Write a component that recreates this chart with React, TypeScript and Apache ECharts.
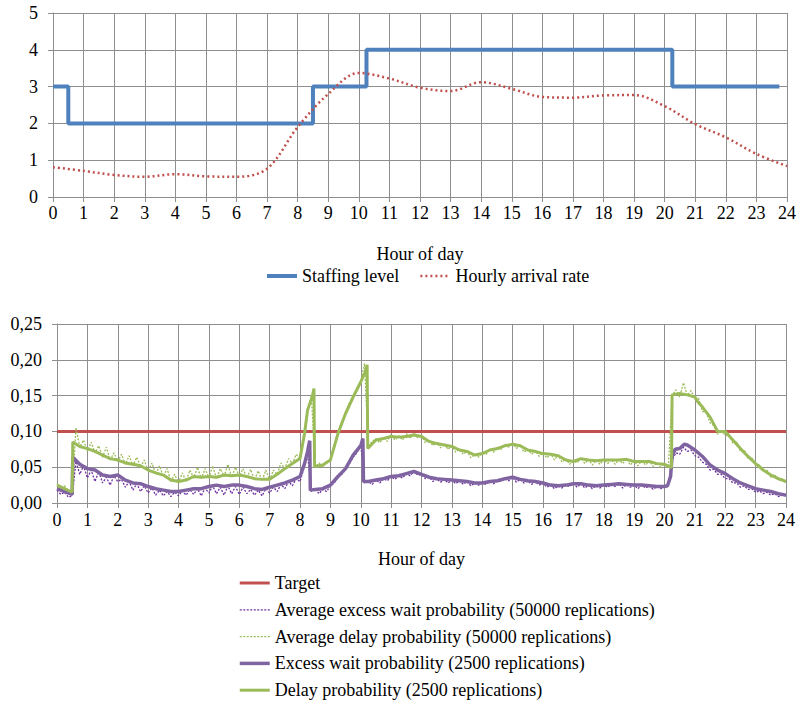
import React, { useEffect, useRef } from "react";
import * as echarts from "echarts";

const FONT = '"Liberation Serif", "Times New Roman", serif';

// ---------- Top chart data ----------
const hourTicks = Array.from({ length: 25 }, (_, i) => i);
const staffHours = [0, 0.5, 8.5, 10.25, 20.25, 23.75];
const staffLevels = [3, 2, 3, 4, 3, 3];
const arrivalHours = hourTicks;
const arrivalRate = [
  0.81, 0.71, 0.6, 0.55, 0.62, 0.56, 0.55, 0.77, 1.9, 2.8, 3.37, 3.22, 2.97,
  2.88, 3.12, 2.94, 2.72, 2.7, 2.76, 2.77, 2.47, 1.98, 1.62, 1.17, 0.84,
];

// ---------- Bottom chart data ----------
const targetLevel = 0.1;

const excessWait2500: [number, number][] = [
  [0, 0.02], [0.25, 0.016], [0.5, 0.012], [0.52, 0.064], [0.75, 0.054], [1, 0.048], [1.25, 0.046], [1.5, 0.039], [1.75, 0.037],
  [2, 0.039], [2.25, 0.032], [2.5, 0.028], [2.75, 0.027], [3, 0.023], [3.25, 0.02], [3.5, 0.018], [3.75, 0.016],
  [4, 0.016], [4.25, 0.018], [4.5, 0.02], [4.75, 0.02], [5, 0.023], [5.25, 0.025], [5.5, 0.023], [5.75, 0.025],
  [6, 0.025], [6.25, 0.023], [6.5, 0.02], [6.75, 0.019], [7, 0.022], [7.25, 0.025], [7.5, 0.028], [7.75, 0.032],
  [8, 0.037], [8.15, 0.055], [8.25, 0.072], [8.32, 0.087], [8.34, 0.018], [8.5, 0.019], [8.75, 0.02],
  [9, 0.025], [9.25, 0.037], [9.5, 0.048], [9.75, 0.067], [10, 0.08], [10.07, 0.09], [10.09, 0.03], [10.25, 0.03],
  [10.5, 0.032], [10.75, 0.034], [11, 0.037], [11.25, 0.038], [11.5, 0.041], [11.75, 0.044],
  [12, 0.04], [12.25, 0.036], [12.5, 0.034], [12.75, 0.033], [13, 0.032], [13.25, 0.031], [13.5, 0.03], [13.75, 0.028],
  [14, 0.028], [14.25, 0.03], [14.5, 0.031], [14.75, 0.034], [15, 0.036], [15.25, 0.033], [15.5, 0.031], [15.75, 0.03],
  [16, 0.028], [16.25, 0.025], [16.5, 0.024], [16.75, 0.025], [17, 0.027], [17.25, 0.027], [17.5, 0.025], [17.75, 0.024],
  [18, 0.025], [18.25, 0.026], [18.5, 0.027], [18.75, 0.026], [19, 0.025], [19.25, 0.025], [19.5, 0.024], [19.75, 0.023],
  [20, 0.023], [20.1, 0.024], [20.2, 0.037], [20.25, 0.065], [20.35, 0.075], [20.5, 0.076], [20.65, 0.082], [20.75, 0.081],
  [21, 0.074], [21.25, 0.065], [21.5, 0.053], [21.75, 0.046], [22, 0.041], [22.25, 0.034], [22.5, 0.028], [22.75, 0.024],
  [23, 0.02], [23.25, 0.018], [23.5, 0.016], [23.75, 0.013], [24, 0.011],
];

const delay2500: [number, number][] = [
  [0, 0.025], [0.25, 0.02], [0.5, 0.015], [0.52, 0.085], [0.75, 0.079], [1, 0.076], [1.25, 0.072], [1.5, 0.067], [1.75, 0.062],
  [2, 0.06], [2.25, 0.056], [2.5, 0.054], [2.75, 0.052], [3, 0.046], [3.25, 0.042], [3.5, 0.039], [3.75, 0.032],
  [4, 0.03], [4.25, 0.032], [4.5, 0.037], [4.75, 0.036], [5, 0.037], [5.25, 0.036], [5.5, 0.039], [5.75, 0.038],
  [6, 0.039], [6.25, 0.037], [6.5, 0.034], [6.75, 0.033], [7, 0.033], [7.25, 0.04], [7.5, 0.048], [7.75, 0.055],
  [8, 0.062], [8.15, 0.097], [8.25, 0.13], [8.4, 0.148], [8.46, 0.16], [8.48, 0.051], [8.75, 0.053],
  [9, 0.06], [9.25, 0.097], [9.5, 0.125], [9.75, 0.148], [10, 0.169], [10.15, 0.183], [10.21, 0.193], [10.23, 0.076],
  [10.5, 0.088], [10.75, 0.09], [11, 0.093], [11.25, 0.092], [11.5, 0.093], [11.75, 0.095],
  [12, 0.093], [12.25, 0.086], [12.5, 0.083], [12.75, 0.081], [13, 0.079], [13.25, 0.074], [13.5, 0.072], [13.75, 0.067],
  [14, 0.069], [14.25, 0.074], [14.5, 0.076], [14.75, 0.08], [15, 0.082], [15.25, 0.08], [15.5, 0.074], [15.75, 0.072],
  [16, 0.069], [16.25, 0.068], [16.5, 0.066], [16.75, 0.06], [17, 0.058], [17.25, 0.062], [17.5, 0.06], [17.75, 0.059],
  [18, 0.06], [18.25, 0.06], [18.5, 0.06], [18.75, 0.061], [19, 0.058], [19.25, 0.058], [19.5, 0.058], [19.75, 0.055],
  [20, 0.054], [20.2, 0.05], [20.23, 0.05], [20.25, 0.151], [20.5, 0.153], [20.75, 0.151],
  [21, 0.148], [21.1, 0.141], [21.25, 0.134], [21.5, 0.12], [21.75, 0.1], [22, 0.1], [22.25, 0.088], [22.5, 0.076], [22.75, 0.065],
  [23, 0.055], [23.25, 0.046], [23.5, 0.039], [23.75, 0.034], [24, 0.03],
];

// 50000-replication averages, sampled every 1/8 hour (0 .. 24)
const avgExcess50000 = [
  0.018, 0.012, 0.015, 0.008, 0.01, 0.058, 0.04, 0.052,
  0.035, 0.046, 0.03, 0.044, 0.028, 0.036, 0.025, 0.038,
  0.03, 0.033, 0.022, 0.03, 0.018, 0.027, 0.016, 0.024,
  0.014, 0.021, 0.011, 0.018, 0.01, 0.016, 0.009, 0.015,
  0.01, 0.017, 0.011, 0.019, 0.012, 0.02, 0.01, 0.021,
  0.014, 0.024, 0.013, 0.022, 0.011, 0.024, 0.013, 0.023,
  0.012, 0.022, 0.013, 0.019, 0.011, 0.018, 0.01, 0.02,
  0.014, 0.022, 0.016, 0.026, 0.02, 0.03, 0.024, 0.034,
  0.03, 0.048, 0.068, 0.016, 0.02, 0.013, 0.019, 0.016,
  0.024, 0.028, 0.036, 0.04, 0.047, 0.055, 0.064, 0.07,
  0.082, 0.028, 0.03, 0.026, 0.032, 0.028, 0.034, 0.031,
  0.037, 0.033, 0.038, 0.035, 0.041, 0.038, 0.044, 0.039,
  0.04, 0.034, 0.036, 0.03, 0.034, 0.029, 0.033, 0.028,
  0.032, 0.027, 0.031, 0.026, 0.03, 0.024, 0.028, 0.025,
  0.028, 0.026, 0.03, 0.027, 0.031, 0.03, 0.034, 0.031,
  0.036, 0.029, 0.033, 0.028, 0.031, 0.026, 0.03, 0.025,
  0.028, 0.022, 0.025, 0.02, 0.024, 0.021, 0.025, 0.023,
  0.027, 0.022, 0.027, 0.021, 0.025, 0.02, 0.024, 0.021,
  0.025, 0.022, 0.026, 0.023, 0.027, 0.021, 0.026, 0.022,
  0.025, 0.02, 0.025, 0.021, 0.024, 0.019, 0.023, 0.02,
  0.023, 0.027, 0.06, 0.07, 0.068, 0.078, 0.072, 0.074,
  0.066, 0.064, 0.057, 0.054, 0.046, 0.047, 0.04, 0.04,
  0.034, 0.034, 0.028, 0.028, 0.022, 0.024, 0.019, 0.02,
  0.015, 0.017, 0.013, 0.015, 0.011, 0.013, 0.009, 0.011,
  0.01,
];

const avgDelay50000 = [
  0.027, 0.02, 0.024, 0.016, 0.014, 0.105, 0.078, 0.088,
  0.072, 0.085, 0.07, 0.08, 0.064, 0.078, 0.06, 0.07,
  0.058, 0.068, 0.054, 0.066, 0.052, 0.064, 0.05, 0.06,
  0.044, 0.056, 0.04, 0.052, 0.037, 0.048, 0.03, 0.04,
  0.028, 0.042, 0.031, 0.046, 0.035, 0.05, 0.034, 0.048,
  0.035, 0.052, 0.034, 0.048, 0.037, 0.054, 0.036, 0.05,
  0.037, 0.048, 0.035, 0.047, 0.032, 0.045, 0.031, 0.046,
  0.032, 0.046, 0.04, 0.056, 0.048, 0.062, 0.055, 0.068,
  0.062, 0.092, 0.13, 0.15, 0.05, 0.056, 0.05, 0.058,
  0.058, 0.08, 0.098, 0.114, 0.126, 0.14, 0.15, 0.16,
  0.17, 0.195, 0.08, 0.086, 0.09, 0.084, 0.092, 0.086,
  0.096, 0.088, 0.094, 0.088, 0.097, 0.09, 0.098, 0.091,
  0.095, 0.084, 0.088, 0.08, 0.085, 0.077, 0.083, 0.075,
  0.08, 0.071, 0.075, 0.068, 0.073, 0.063, 0.068, 0.064,
  0.07, 0.068, 0.075, 0.071, 0.078, 0.075, 0.082, 0.078,
  0.084, 0.076, 0.081, 0.071, 0.075, 0.068, 0.073, 0.065,
  0.07, 0.063, 0.069, 0.06, 0.067, 0.057, 0.062, 0.054,
  0.059, 0.056, 0.063, 0.055, 0.061, 0.053, 0.06, 0.054,
  0.061, 0.055, 0.061, 0.054, 0.061, 0.055, 0.062, 0.053,
  0.059, 0.052, 0.059, 0.053, 0.059, 0.051, 0.056, 0.05,
  0.055, 0.049, 0.15, 0.158, 0.148, 0.168, 0.15, 0.157,
  0.145, 0.146, 0.128, 0.126, 0.112, 0.108, 0.096, 0.102,
  0.094, 0.095, 0.084, 0.086, 0.072, 0.074, 0.062, 0.064,
  0.052, 0.054, 0.044, 0.046, 0.036, 0.04, 0.031, 0.034,
  0.028,
];
const fineHours = avgExcess50000.map((_, i) => i / 8);

const yTicksBottom = [0, 0.05, 0.1, 0.15, 0.2, 0.25];

const GRID_COLOR = "#8e8e8e";
const TEXT = { color: "#000", fontSize: 18, fontFamily: FONT };

const C_BLUE = "#4F81BD";
const C_RED = "#C0504D";
const C_PURPLE = "#8064A2";
const C_PURPLE_DOT = "#7030A0";
const C_GREEN = "#9BBB59";

const S_STAFF = { color: C_BLUE, width: 4 };
const S_ARRIVAL = { color: C_RED, width: 2.5, type: [2, 3] };
const S_TARGET = { color: C_RED, width: 3 };
const S_AVG_EXCESS = { color: C_PURPLE_DOT, width: 1.3, type: [2, 1.5] };
const S_AVG_DELAY = { color: C_GREEN, width: 1.3, type: [2, 1.5] };
const S_EXCESS = { color: C_PURPLE, width: 3.5 };
const S_DELAY = { color: C_GREEN, width: 3 };

const HIDDEN_SYMBOL = { color: "rgba(0,0,0,0)", borderWidth: 0, opacity: 0 };

function xAxisFor(gridIndex: number, labelMargin: number, nameGap: number) {
  return {
    gridIndex,
    type: "value",
    min: 0,
    max: 24,
    interval: 1,
    axisLine: { show: true, lineStyle: { color: GRID_COLOR, width: 1 } },
    axisTick: { show: true, length: 5, lineStyle: { color: GRID_COLOR } },
    axisLabel: { ...TEXT, margin: labelMargin },
    splitLine: { show: true, lineStyle: { color: GRID_COLOR, width: 1 } },
    name: "Hour of day",
    nameLocation: "middle",
    nameGap,
    nameTextStyle: { ...TEXT },
  };
}

function legendItem(name: string, lineStyle: any) {
  return { name, lineStyle: { ...lineStyle }, itemStyle: HIDDEN_SYMBOL };
}

export default function App() {
  const ref = useRef<HTMLDivElement>(null);
  useEffect(() => {
    document.body.style.margin = "0";
    const chart = echarts.init(ref.current!, null, { renderer: "svg" });
    const names = {
      staff: "Staffing level",
      arrival: "Hourly arrival rate",
      target: "Target",
      avgExcess: "Average excess wait probability (50000 replications)",
      avgDelay: "Average delay probability (50000 replications)",
      excess: "Excess wait probability (2500 replications)",
      delay: "Delay probability (2500 replications)",
    };
    const option: any = {
      animation: false,
      backgroundColor: "#fff",
      textStyle: { fontFamily: FONT },
      grid: [
        { left: 53, top: 13, width: 736, height: 184 },
        { left: 57, top: 324, width: 729, height: 179 },
      ],
      xAxis: [xAxisFor(0, 7, 48), xAxisFor(1, 8, 47)],
      yAxis: [
        {
          gridIndex: 0,
          type: "value",
          min: 0,
          max: 5,
          interval: 1,
          axisLine: { show: true, lineStyle: { color: GRID_COLOR } },
          axisTick: { show: true, length: 5, lineStyle: { color: GRID_COLOR } },
          axisLabel: { ...TEXT, margin: 15 },
          splitLine: { show: true, lineStyle: { color: GRID_COLOR, width: 1 } },
        },
        {
          gridIndex: 1,
          type: "value",
          min: yTicksBottom[0],
          max: yTicksBottom[yTicksBottom.length - 1],
          interval: 0.05,
          axisLine: { show: true, lineStyle: { color: GRID_COLOR } },
          axisTick: { show: true, length: 5, lineStyle: { color: GRID_COLOR } },
          axisLabel: {
            ...TEXT,
            margin: 15,
            formatter: (v: number) => v.toFixed(2).replace(".", ","),
          },
          splitLine: { show: true, lineStyle: { color: GRID_COLOR, width: 1 } },
        },
      ],
      legend: [
        {
          data: [legendItem(names.staff, S_STAFF), legendItem(names.arrival, S_ARRIVAL)],
          left: 265,
          top: 267,
          padding: 0,
          itemWidth: 30,
          itemHeight: 14,
          itemGap: 20,
          itemStyle: HIDDEN_SYMBOL,
          textStyle: { ...TEXT, lineHeight: 18 },
        },
        {
          data: [
            legendItem(names.target, S_TARGET),
            legendItem(names.avgExcess, S_AVG_EXCESS),
            legendItem(names.avgDelay, S_AVG_DELAY),
            legendItem(names.excess, S_EXCESS),
            legendItem(names.delay, S_DELAY),
          ],
          orient: "vertical",
          left: 238,
          top: 574,
          padding: 0,
          height: 132,
          itemWidth: 30,
          itemHeight: 14,
          itemGap: 8.8,
          itemStyle: HIDDEN_SYMBOL,
          textStyle: { ...TEXT, lineHeight: 18 },
        },
      ],
      series: [
        {
          name: names.staff,
          type: "line",
          xAxisIndex: 0,
          yAxisIndex: 0,
          step: "end",
          symbol: "none",
          data: staffHours.map((h, i) => [h, staffLevels[i]]),
          lineStyle: S_STAFF,
          itemStyle: { color: C_BLUE },
          z: 3,
        },
        {
          name: names.arrival,
          type: "line",
          xAxisIndex: 0,
          yAxisIndex: 0,
          smooth: 0.35,
          symbol: "none",
          data: arrivalHours.map((h, i) => [h, arrivalRate[i]]),
          lineStyle: S_ARRIVAL,
          itemStyle: { color: C_RED },
          z: 4,
        },
        {
          name: names.target,
          type: "line",
          xAxisIndex: 1,
          yAxisIndex: 1,
          symbol: "none",
          data: [
            [0, targetLevel],
            [24, targetLevel],
          ],
          lineStyle: S_TARGET,
          itemStyle: { color: C_RED },
        },
        {
          name: names.avgExcess,
          type: "line",
          xAxisIndex: 1,
          yAxisIndex: 1,
          symbol: "none",
          data: fineHours.map((h, i) => [h, avgExcess50000[i]]),
          lineStyle: S_AVG_EXCESS,
          itemStyle: { color: C_PURPLE_DOT },
        },
        {
          name: names.avgDelay,
          type: "line",
          xAxisIndex: 1,
          yAxisIndex: 1,
          symbol: "none",
          data: fineHours.map((h, i) => [h, avgDelay50000[i]]),
          lineStyle: S_AVG_DELAY,
          itemStyle: { color: C_GREEN },
        },
        {
          name: names.excess,
          type: "line",
          xAxisIndex: 1,
          yAxisIndex: 1,
          symbol: "none",
          data: excessWait2500,
          lineStyle: S_EXCESS,
          itemStyle: { color: C_PURPLE },
        },
        {
          name: names.delay,
          type: "line",
          xAxisIndex: 1,
          yAxisIndex: 1,
          symbol: "none",
          data: delay2500,
          lineStyle: S_DELAY,
          itemStyle: { color: C_GREEN },
        },
      ],
    };
    chart.setOption(option);
    return () => chart.dispose();
  }, []);
  return <div ref={ref} style={{ width: 799, height: 706 }} />;
}
